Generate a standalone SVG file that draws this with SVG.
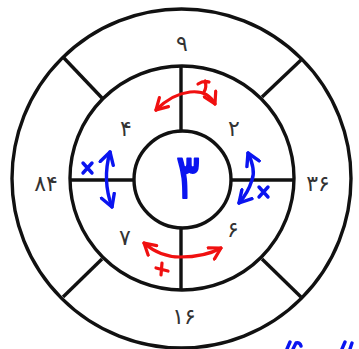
<svg xmlns="http://www.w3.org/2000/svg" width="359" height="349" viewBox="0 0 359 349">
<defs>
<style>
.ring{fill:none;stroke:#111;stroke-width:3.4}
.line{stroke:#111;stroke-width:3.4;fill:none}
.num{font-family:"DejaVu Sans",sans-serif;font-size:22px;fill:#333;text-anchor:middle}
.red{fill:none;stroke:#f01010;stroke-width:3.2;stroke-linecap:round;stroke-linejoin:round}
.blue{fill:none;stroke:#0a14f0;stroke-width:3.4;stroke-linecap:round;stroke-linejoin:round}
</style>
<marker id="ar" viewBox="0 0 10 10" refX="8" refY="5" markerWidth="5" markerHeight="5" orient="auto-start-reverse" markerUnits="strokeWidth">
<path d="M1,1 L8,5 L1,9" fill="none" stroke="#f01010" stroke-width="2" stroke-linecap="round" stroke-linejoin="round"/>
</marker>
<marker id="ab" viewBox="0 0 10 10" refX="8" refY="5" markerWidth="5" markerHeight="5" orient="auto-start-reverse" markerUnits="strokeWidth">
<path d="M1,1 L8,5 L1,9" fill="none" stroke="#0a14f0" stroke-width="2" stroke-linecap="round" stroke-linejoin="round"/>
</marker>
</defs>
<rect width="359" height="349" fill="#fff"/>
<g id="rings">
<circle class="ring" cx="181.5" cy="178.5" r="169.5"/>
<circle class="ring" cx="182" cy="178" r="112"/>
<circle class="ring" cx="182.5" cy="179.5" r="48.5"/>
</g>
<g id="connectors">
<line class="line" x1="181" y1="66" x2="181" y2="131"/>
<line class="line" x1="181" y1="228" x2="181" y2="290"/>
<line class="line" x1="70" y1="180" x2="134" y2="180"/>
<line class="line" x1="231" y1="180" x2="294" y2="180"/>
<line class="line" x1="63" y1="57" x2="102" y2="98"/>
<line class="line" x1="301" y1="60" x2="262" y2="97"/>
<line class="line" x1="63" y1="297" x2="102" y2="259"/>
<line class="line" x1="301" y1="297" x2="262" y2="259"/>
</g>
<g id="n-top"><text class="num" x="182" y="51">۹</text></g>
<g id="n-left"><text class="num" x="46" y="191">۸۴</text></g>
<g id="n-right"><text class="num" x="318" y="191">۳۶</text></g>
<g id="n-bottom"><text class="num" x="184" y="324">۱۶</text></g>
<g id="n-4"><text class="num" x="126" y="136">۴</text></g>
<g id="n-2"><text class="num" x="234" y="136">۲</text></g>
<g id="n-7"><text class="num" x="125" y="245">۷</text></g>
<g id="n-6"><text class="num" x="233" y="237">۶</text></g>
<g id="n-center"><text transform="translate(188,198) scale(0.7,1)" x="0" y="0" font-family="DejaVu Sans,sans-serif" font-size="62" fill="#0a14f0" stroke="#0a14f0" stroke-width="2.2" stroke-linejoin="round" text-anchor="middle">۳</text></g>
<g id="red-top">
<path class="red" d="M156,110 Q172,94 190,92 Q208,90 215,104" marker-start="url(#ar)" marker-end="url(#ar)"/>
<path class="red" d="M198,84 Q204,80 209,82 M205,81 Q207,87 204,92"/>
</g>
<g id="red-bottom">
<path class="red" d="M144,243 Q160,257 180,257 Q205,257 221,248" marker-start="url(#ar)" marker-end="url(#ar)"/>
<path class="red" d="M156,268 L168,271 M162,263 L161,275"/>
</g>
<g id="blue-left">
<path class="blue" d="M110,152 Q102,180 112,207" marker-start="url(#ab)" marker-end="url(#ab)"/>
<path class="blue" d="M83,163 L92,173 M92,163 L83,173"/>
</g>
<g id="blue-right">
<path class="blue" d="M248,153 Q256,170 252,180 Q248,193 239,203" marker-start="url(#ab)" marker-end="url(#ab)"/>
<path class="blue" d="M259,187 L268,197 M268,187 L259,197"/>
</g>
<g id="blue-fragment">
<path class="blue" d="M287,349 L290,342 M293,349 L296,343 Q300,342 301,346 M342,349 L345,342 M350,349 L352,343" stroke-width="2.5"/>
</g>
</svg>
